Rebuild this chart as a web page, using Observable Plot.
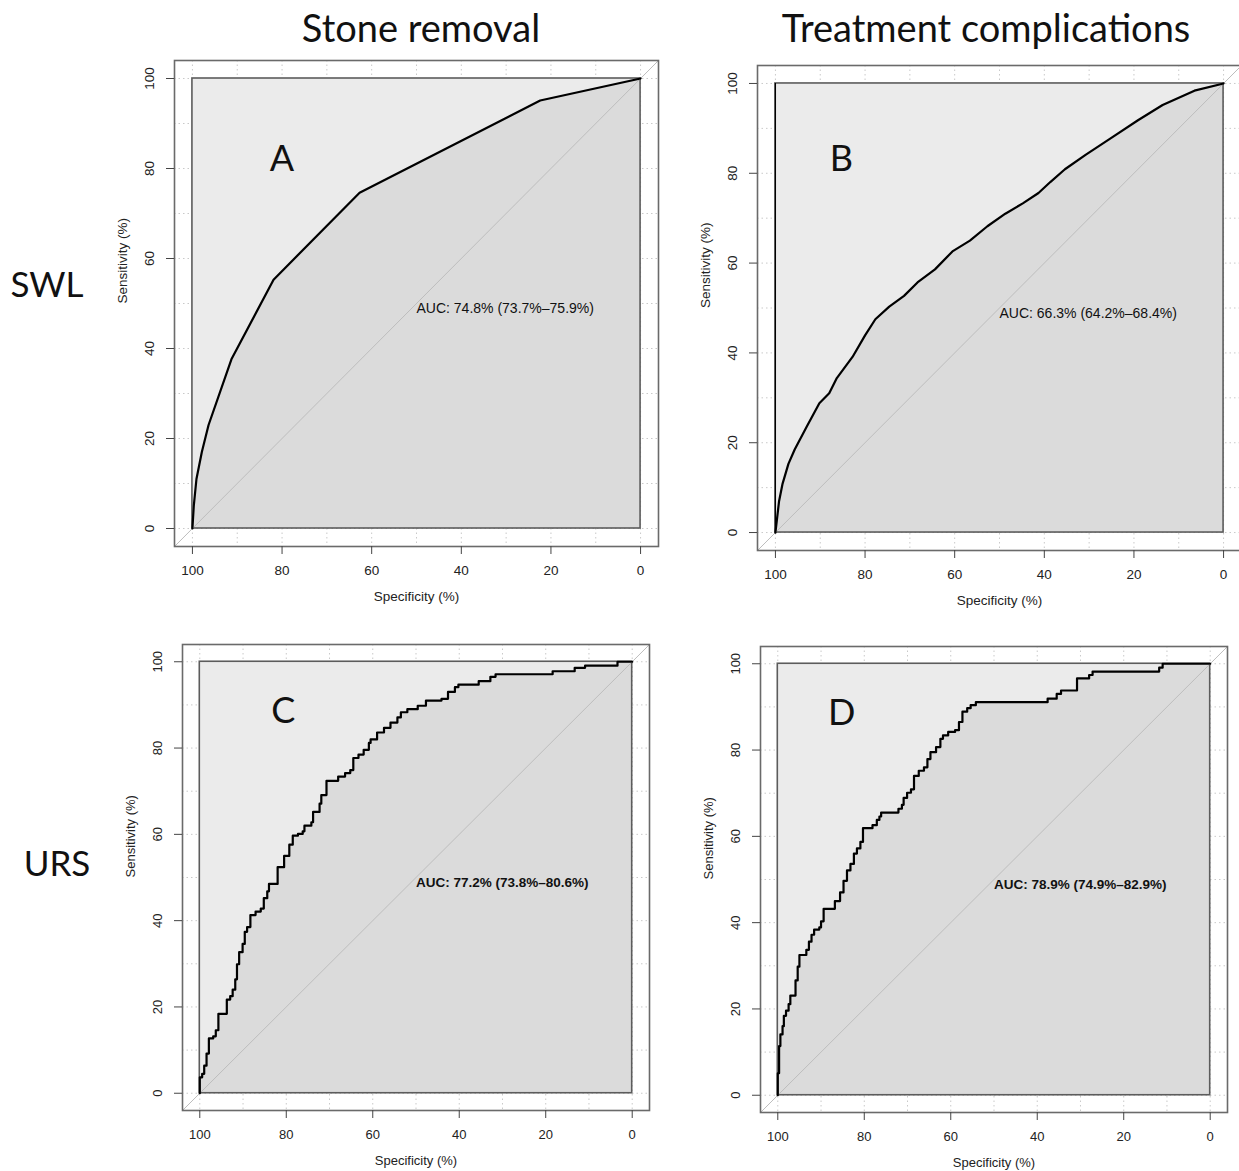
<!DOCTYPE html>
<html><head><meta charset="utf-8">
<script src="https://cdn.jsdelivr.net/npm/d3@7"></script>
<script src="https://cdn.jsdelivr.net/npm/@observablehq/plot@0.6"></script>
<style>
html,body{margin:0;padding:0;background:#fff;overflow:hidden;}
#fig{position:relative;width:1239px;height:1171px;overflow:hidden;background:#fff;}
.hdr{position:absolute;font-family:Lato,sans-serif;color:#111;white-space:nowrap;transform:translate(-50%,-50%);line-height:1;}
</style></head><body><div id="fig"></div>
<script>
// ---------- text ----------
const colTitles = ["Stone removal", "Treatment complications"];
const rowTitles = ["SWL", "URS"];
const panelLetters = ["A", "B", "C", "D"];
const letterSpec = [80, 85.3, 80.7, 85.2];
const letterSens = [82, 83, 88.4, 88.5];
const aucTexts = [
  "AUC: 74.8% (73.7%\u201375.9%)",
  "AUC: 66.3% (64.2%\u201368.4%)",
  "AUC: 77.2% (73.8%\u201380.6%)",
  "AUC: 78.9% (74.9%\u201382.9%)"
];
const aucSpec = 50, aucSens = 50;
const xLabel = "Specificity (%)";
const yLabel = "Sensitivity (%)";

// ---------- scales / ticks ----------
const xDomain = [104, -4];
const yDomain = [-4, 104];
const axisTicks = [0, 20, 40, 60, 80, 100];
const gridTicks = [0, 10, 20, 30, 40, 50, 60, 70, 80, 90, 100];
const rocSquare = [0, 100];

// ---------- A: SWL, stone removal ----------
const specA = [100, 99.7, 99.1, 97.9, 96.4, 91.3, 81.9, 62.7, 22.4, 0];
const sensA = [0, 5, 11, 17, 23, 37.6, 55.3, 74.6, 95.1, 100];

// ---------- B: SWL, treatment complications ----------
const specB = [100, 99.2, 98.4, 97.1, 95.7, 93, 90.2, 88, 86.3, 82.8, 80, 77.7, 74.6, 71.3, 68.3, 64.4, 60.5, 56.6, 52.7, 48.7, 44.8, 41.3, 38.6, 35.4, 30.8, 25.3, 19.1, 13.6, 6.5, 0];
const sensB = [0, 6.9, 10.9, 15.3, 18.5, 23.6, 28.8, 31, 34.4, 39.1, 43.9, 47.5, 50.3, 52.7, 55.7, 58.6, 62.6, 65, 68.2, 71, 73.3, 75.6, 78.1, 80.9, 84.1, 87.7, 91.8, 95.2, 98.4, 100];

// ---------- C: URS, stone removal (step corners) ----------
const specC = [100, 100, 99.45, 98.98, 98.44, 97.9, 96.9, 96.3, 95.7, 93.75, 92.97, 92.4, 91.8, 91.4, 90.9, 90.1, 89.6, 89.06, 88.3, 87.1, 85.9, 85.2, 84.4, 84, 82, 80.5, 79.3, 78.5, 77.3, 76.2, 75.8, 74.2, 73.8, 72.3, 71.9, 70.7, 68, 66.4, 65.2, 64.5, 63.3, 62.1, 60.9, 60.5, 59, 57.4, 55.9, 54.3, 53.5, 52, 49.6, 47.7, 44.1, 42.6, 41, 40.2, 35.5, 32.8, 31.6, 18.4, 13.3, 10.9, 3.4, 0];
const sensC = [0, 3.7, 4.5, 6.4, 9.2, 12.7, 13.2, 14.6, 18.4, 21.7, 22.5, 24, 26.4, 29.9, 32.7, 34.6, 37.4, 38.5, 41.3, 42.1, 42.8, 45.2, 46.8, 48.5, 52.4, 55, 57.6, 59.7, 60.1, 60.7, 62, 62.8, 65.2, 67.1, 69.1, 72.4, 73.4, 74.2, 74.9, 77.7, 78.5, 79.6, 81.2, 82, 83.6, 84.7, 85.9, 87.1, 88.3, 89, 89.8, 91, 91.4, 93, 94.1, 94.7, 95.5, 96.5, 97.1, 97.8, 98.6, 99.1, 100, 100];

// ---------- D: URS, treatment complications (step corners) ----------
const specD = [100, 100, 99.7, 99.4, 98.9, 98.6, 98.1, 97.5, 97.1, 95.9, 95.4, 95, 93.4, 92.8, 92.2, 91.6, 90.4, 90, 89.4, 86.8, 85.6, 84.8, 84, 83.2, 82.4, 81.7, 80.9, 80.3, 78.1, 77.1, 76.5, 76.1, 72.1, 71.3, 70.9, 70.1, 69.2, 68.5, 67.4, 66.2, 65.4, 64.7, 63.4, 62.4, 61.8, 60.6, 59, 58.1, 57.3, 56.2, 55.4, 54.2, 37.6, 35.5, 34.5, 30.8, 28, 27.2, 11.8, 11, 0];
const sensD = [0, 5.1, 11.4, 14.1, 16, 18.4, 19.6, 21.1, 23.1, 26.6, 29.8, 32.5, 33.7, 35.6, 37.2, 38.4, 38.9, 40.3, 43.2, 45, 47, 49.7, 52.1, 53.6, 56, 57.2, 58.7, 61.9, 62.6, 63.8, 64.6, 65.5, 66.4, 67.3, 68.9, 70.1, 70.9, 74, 75.2, 76, 77.9, 79.5, 80.7, 82.6, 83.4, 84.2, 84.6, 86.5, 88.9, 89.7, 90.4, 91.1, 91.9, 93, 93.8, 96.6, 97.4, 98.2, 99.1, 100, 100];

// ---------- layout (pixels) ----------
const panels = [
  {spec: specA, sens: sensA, curve: "linear",     left: 174, top: 60,  w: 484, h: 486, fs: 13.5, aucFs: 14,   bold: false, blackEdge: false},
  {spec: specB, sens: sensB, curve: "linear",     left: 757, top: 65,  w: 484, h: 485, fs: 13.5, aucFs: 14,   bold: false, blackEdge: true},
  {spec: specC, sens: sensC, curve: "step-after", left: 182, top: 644, w: 467, h: 466, fs: 13,   aucFs: 13.5, bold: true,  blackEdge: false},
  {spec: specD, sens: sensD, curve: "step-after", left: 760, top: 646, w: 467, h: 466, fs: 13,   aucFs: 13.5, bold: true,  blackEdge: false}
];

const fig = document.getElementById("fig");
const ML = 80, MR = 12, MT = 12, MB = 72;
const FONT = "'Liberation Sans', Arial, Helvetica, sans-serif";

panels.forEach((p, k) => {
  const roc = p.spec.map((s, i) => ({spec: s, sens: p.sens[i]}));
  const diag = xDomain.map(x => ({x, y: rocSquare[1] - x}));
  const square = [{x1: rocSquare[0], x2: rocSquare[1], y1: rocSquare[0], y2: rocSquare[1]}];
  const marks = [
    Plot.ruleX(gridTicks, {stroke: "#c9c9c9", strokeWidth: 1, strokeDasharray: "1.5,3"}),
    Plot.ruleY(gridTicks, {stroke: "#c9c9c9", strokeWidth: 1, strokeDasharray: "1.5,3"}),
    Plot.rect(square, {x1: "x1", x2: "x2", y1: "y1", y2: "y2", fill: "#EBEBEB"}),
    Plot.areaY(roc, {x: "spec", y: "sens", curve: p.curve, fill: "#DBDBDB"}),
    Plot.rect(square, {x1: "x1", x2: "x2", y1: "y1", y2: "y2", fill: "none", stroke: "#5c5c5c", strokeWidth: 1.6}),
    Plot.line(diag, {x: "x", y: "y", stroke: "#bdbdbd", strokeWidth: 1})
  ];
  if (p.blackEdge) marks.push(Plot.ruleX([rocSquare[1]], {y1: rocSquare[0], y2: rocSquare[1], stroke: "#000", strokeWidth: 1.2}));
  marks.push(
    Plot.line(roc, {x: "spec", y: "sens", curve: p.curve, stroke: "#000", strokeWidth: 2.2, strokeLinejoin: "round"}),
    Plot.frame({stroke: "#6a6a6a", strokeWidth: 1.6}),
    Plot.axisX({ticks: axisTicks, tickSize: 8, tickPadding: 11, tickFormat: d => String(d), label: null, fontSize: p.fs, stroke: "#444"}),
    Plot.axisY({ticks: axisTicks, tickSize: 8, tickPadding: 13, tickRotate: -90, tickFormat: d => String(d), label: null, fontSize: p.fs, stroke: "#444"}),
    Plot.text([xLabel], {frameAnchor: "bottom", dy: 50, lineAnchor: "middle", fontSize: p.fs, fill: "#222"}),
    Plot.text([yLabel], {frameAnchor: "left", dx: -52, rotate: -90, lineAnchor: "middle", fontSize: p.fs, fill: "#222"}),
    Plot.text([{x: aucSpec, y: aucSens, t: aucTexts[k]}], {x: "x", y: "y", text: "t", textAnchor: "start", lineAnchor: "top", fontSize: p.aucFs, fontWeight: p.bold ? "bold" : "normal", fill: "#111"}),
    Plot.text([{x: letterSpec[k], y: letterSens[k], t: panelLetters[k]}], {x: "x", y: "y", text: "t", textAnchor: "middle", lineAnchor: "middle", fontSize: 36, fontFamily: "Lato, sans-serif", fill: "#111"})
  );
  const svg = Plot.plot({
    width: ML + p.w + MR,
    height: MT + p.h + MB,
    marginLeft: ML, marginRight: MR, marginTop: MT, marginBottom: MB,
    x: {domain: xDomain, axis: null},
    y: {domain: yDomain, axis: null},
    style: {fontFamily: FONT, fontSize: p.fs + "px", color: "#222", background: "transparent", overflow: "visible", maxWidth: "none"},
    marks
  });
  svg.style.position = "absolute";
  svg.style.left = (p.left - ML) + "px";
  svg.style.top = (p.top - MT) + "px";
  fig.appendChild(svg);
});

// headers and row labels
const hdrPos = [[421, 27], [986, 27]];
colTitles.forEach((t, i) => {
  const d = document.createElement("div");
  d.className = "hdr"; d.textContent = t; d.style.fontSize = "38px";
  d.style.left = hdrPos[i][0] + "px"; d.style.top = hdrPos[i][1] + "px";
  fig.appendChild(d);
});
const rowPos = [[47, 283], [57, 862]];
rowTitles.forEach((t, i) => {
  const d = document.createElement("div");
  d.className = "hdr"; d.textContent = t; d.style.fontSize = "35px";
  d.style.left = rowPos[i][0] + "px"; d.style.top = rowPos[i][1] + "px";
  fig.appendChild(d);
});
</script></body></html>
